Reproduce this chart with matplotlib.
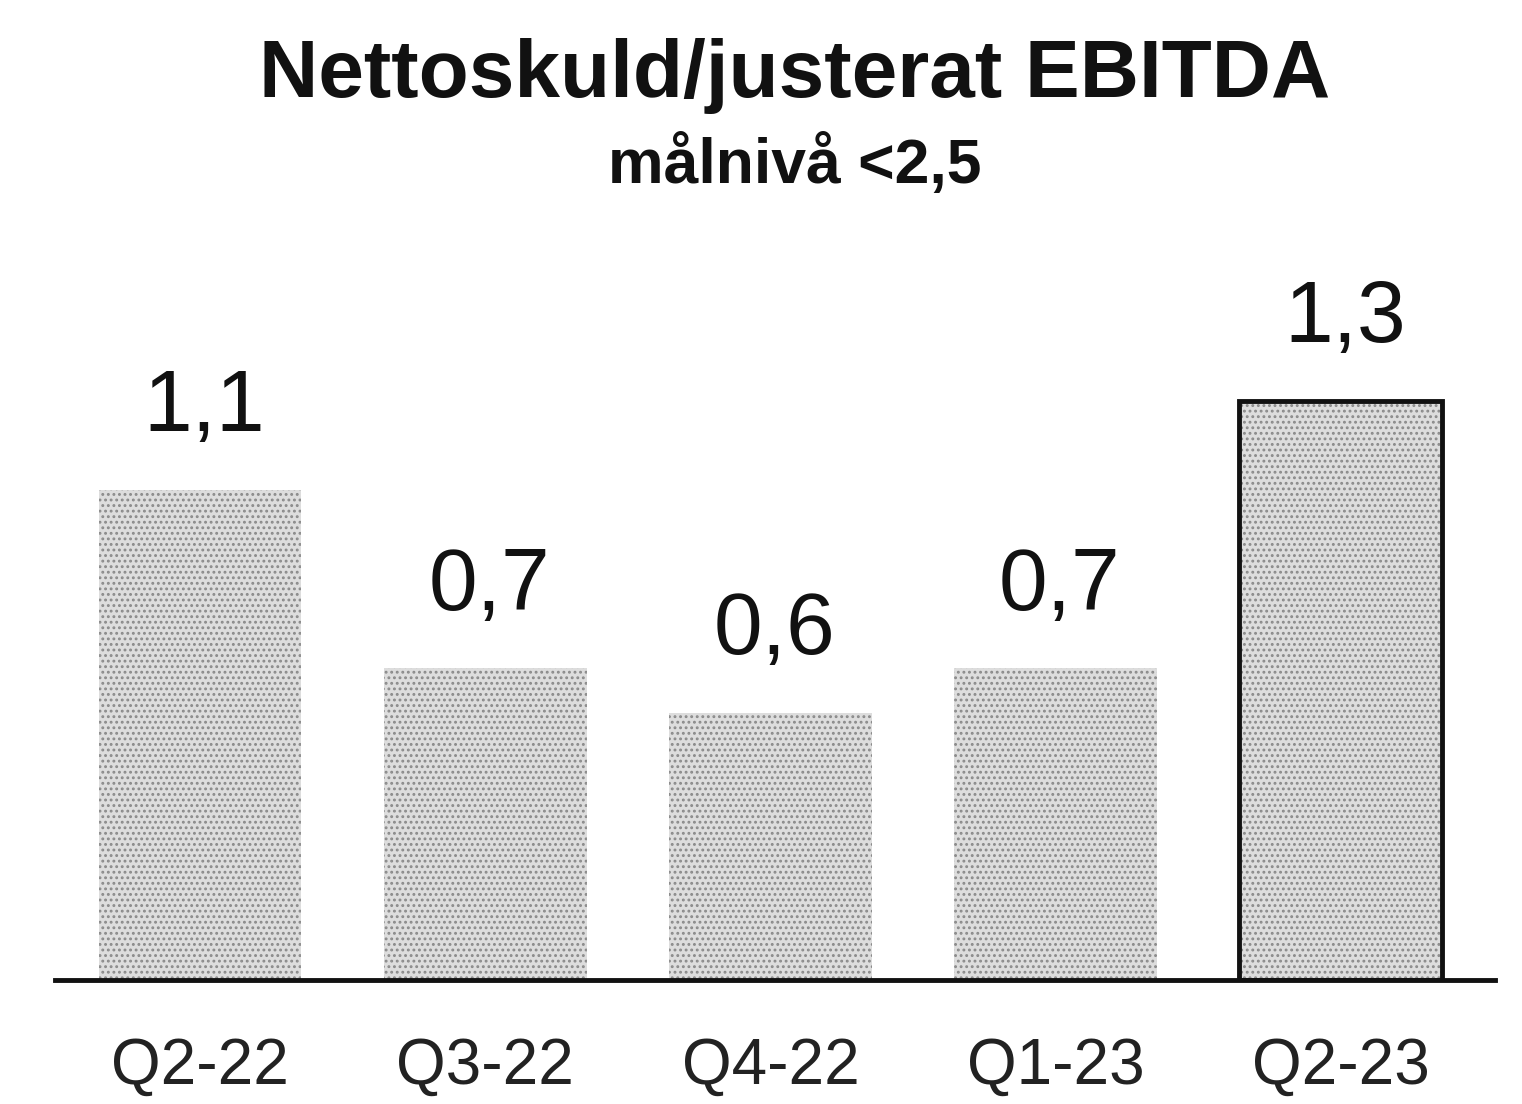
import matplotlib
matplotlib.use("Agg")
import matplotlib.pyplot as plt

categories = ["Q2-22", "Q3-22", "Q4-22", "Q1-23", "Q2-23"]
values = [1.1, 0.7, 0.6, 0.7, 1.3]
labels = ["1,1", "0,7", "0,6", "0,7", "1,3"]
title = "Nettoskuld/justerat EBITDA"
subtitle = "målnivå <2,5"

plt.rcParams['font.family'] = ['Liberation Sans', 'DejaVu Sans']
plt.rcParams['hatch.linewidth'] = 1.3

fig = plt.figure(figsize=(15.22, 11.04), dpi=100)
ax = fig.add_axes([0.036, 0.1123, 0.946, 0.661])

x = list(range(len(categories)))
ax.bar(x, values, width=0.71, color='#dddddd', edgecolor='#8a8a8a',
       hatch='...', linewidth=0)
# last bar has a dark outline
ax.bar(x[-1], values[-1], width=0.71, facecolor='none', edgecolor='#111111', linewidth=3.5)

for xi, v, lab in zip(x, values, labels):
    ax.annotate(lab, (xi, v), xytext=(3, 42), textcoords='offset points',
                ha='center', va='baseline', fontsize=63, color='#111111')

ax.set_xlim(-0.51, 4.54)
ax.set_ylim(0, 1.637)
ax.set_xticks(x)
ax.set_xticklabels(categories, fontsize=46, color='#222222')
ax.tick_params(axis='x', length=0, pad=41)
ax.set_yticks([])
for s in ['top', 'right', 'left']:
    ax.spines[s].set_visible(False)
ax.spines['bottom'].set_linewidth(3.5)
ax.spines['bottom'].set_color('#111111')

fig.text(0.522, 1 - 97 / 1104, title, ha='center', va='baseline', fontsize=59,
         fontweight='bold', color='#111111')
fig.text(0.522, 1 - 183 / 1104, subtitle, ha='center', va='baseline', fontsize=45,
         fontweight='bold', color='#111111')

fig.savefig('out.png', dpi=100, facecolor='white')
